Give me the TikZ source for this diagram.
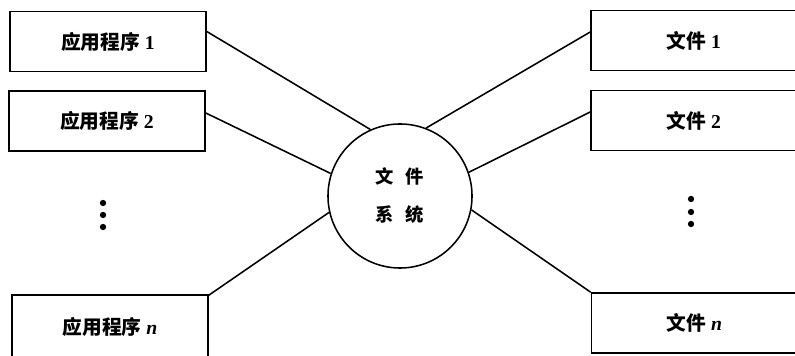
\documentclass[tikz,border=0pt]{standalone}
\usepackage{fontspec}
\setmainfont{Liberation Serif}
\newfontfamily\cjk{Noto Sans CJK SC}
\usetikzlibrary{calc,positioning}

\begin{document}
\begin{tikzpicture}[x=0.025cm,y=0.025cm,
box/.style={rectangle,draw,line width=1.1pt,inner sep=0pt,minimum width=4.9cm,minimum height=1.5cm,font=\fontsize{14}{16}\selectfont},
fbox/.style={box,minimum width=5.15cm},
dot/.style={circle,fill,inner sep=0pt,minimum size=4.5pt},
link/.style={line width=1.1pt}]
\useasboundingbox (0,0) rectangle (795,355);
\clip (0,0) rectangle (795,355);
% programs
\node[box] (P1) at (108,313.5) {{\cjk\bfseries 应用程序} \textbf{1}};
\node[box] (P2) at (107,234) {{\cjk\bfseries 应用程序} \textbf{2}};
\node[box,minimum height=1.6cm] (Pn) at (110,28) {{\cjk\bfseries 应用程序} \textbf{\textit{n}}};
\node[dot] (Pd1) at (103,152) {};
\node[dot] (Pd2) at (103,140) {};
\node[dot] (Pd3) at (103,128) {};
% files
\node[fbox] (F1) at (694,314.5) {{\cjk\bfseries 文件} \textbf{1}};
\node[fbox] (F2) at (694,234.5) {{\cjk\bfseries 文件} \textbf{2}};
\node[fbox] (Fn) at (694.5,32) {{\cjk\bfseries 文件} \textbf{\textit{n}}};
\node[dot] (Fd1) at (691,156) {};
\node[dot] (Fd2) at (691,143) {};
\node[dot] (Fd3) at (691,131) {};
% file system
\node[circle,draw,line width=1.1pt,minimum size=3.6cm,align=center,
font=\fontsize{13}{27}\selectfont\cjk\bfseries] (FS) at (400,159)
{文\hspace{0.65em}件\\系\hspace{0.65em}统};
\draw[link] ($(P1.east)+(0,10)$)--(FS.114);
\draw[link] ($(P2.east)+(0,8)$)--(FS.162);
\draw[link] ($(Pn.north east)+(0,-1)$)--(FS.193);
\draw[link] ($(F1.west)+(0,8.5)$)--(FS.69);
\draw[link] ($(F2.west)+(0,8.5)$)--(FS.19);
\draw[link] (Fn.north west)--(FS.-11);
\end{tikzpicture}
\end{document}
